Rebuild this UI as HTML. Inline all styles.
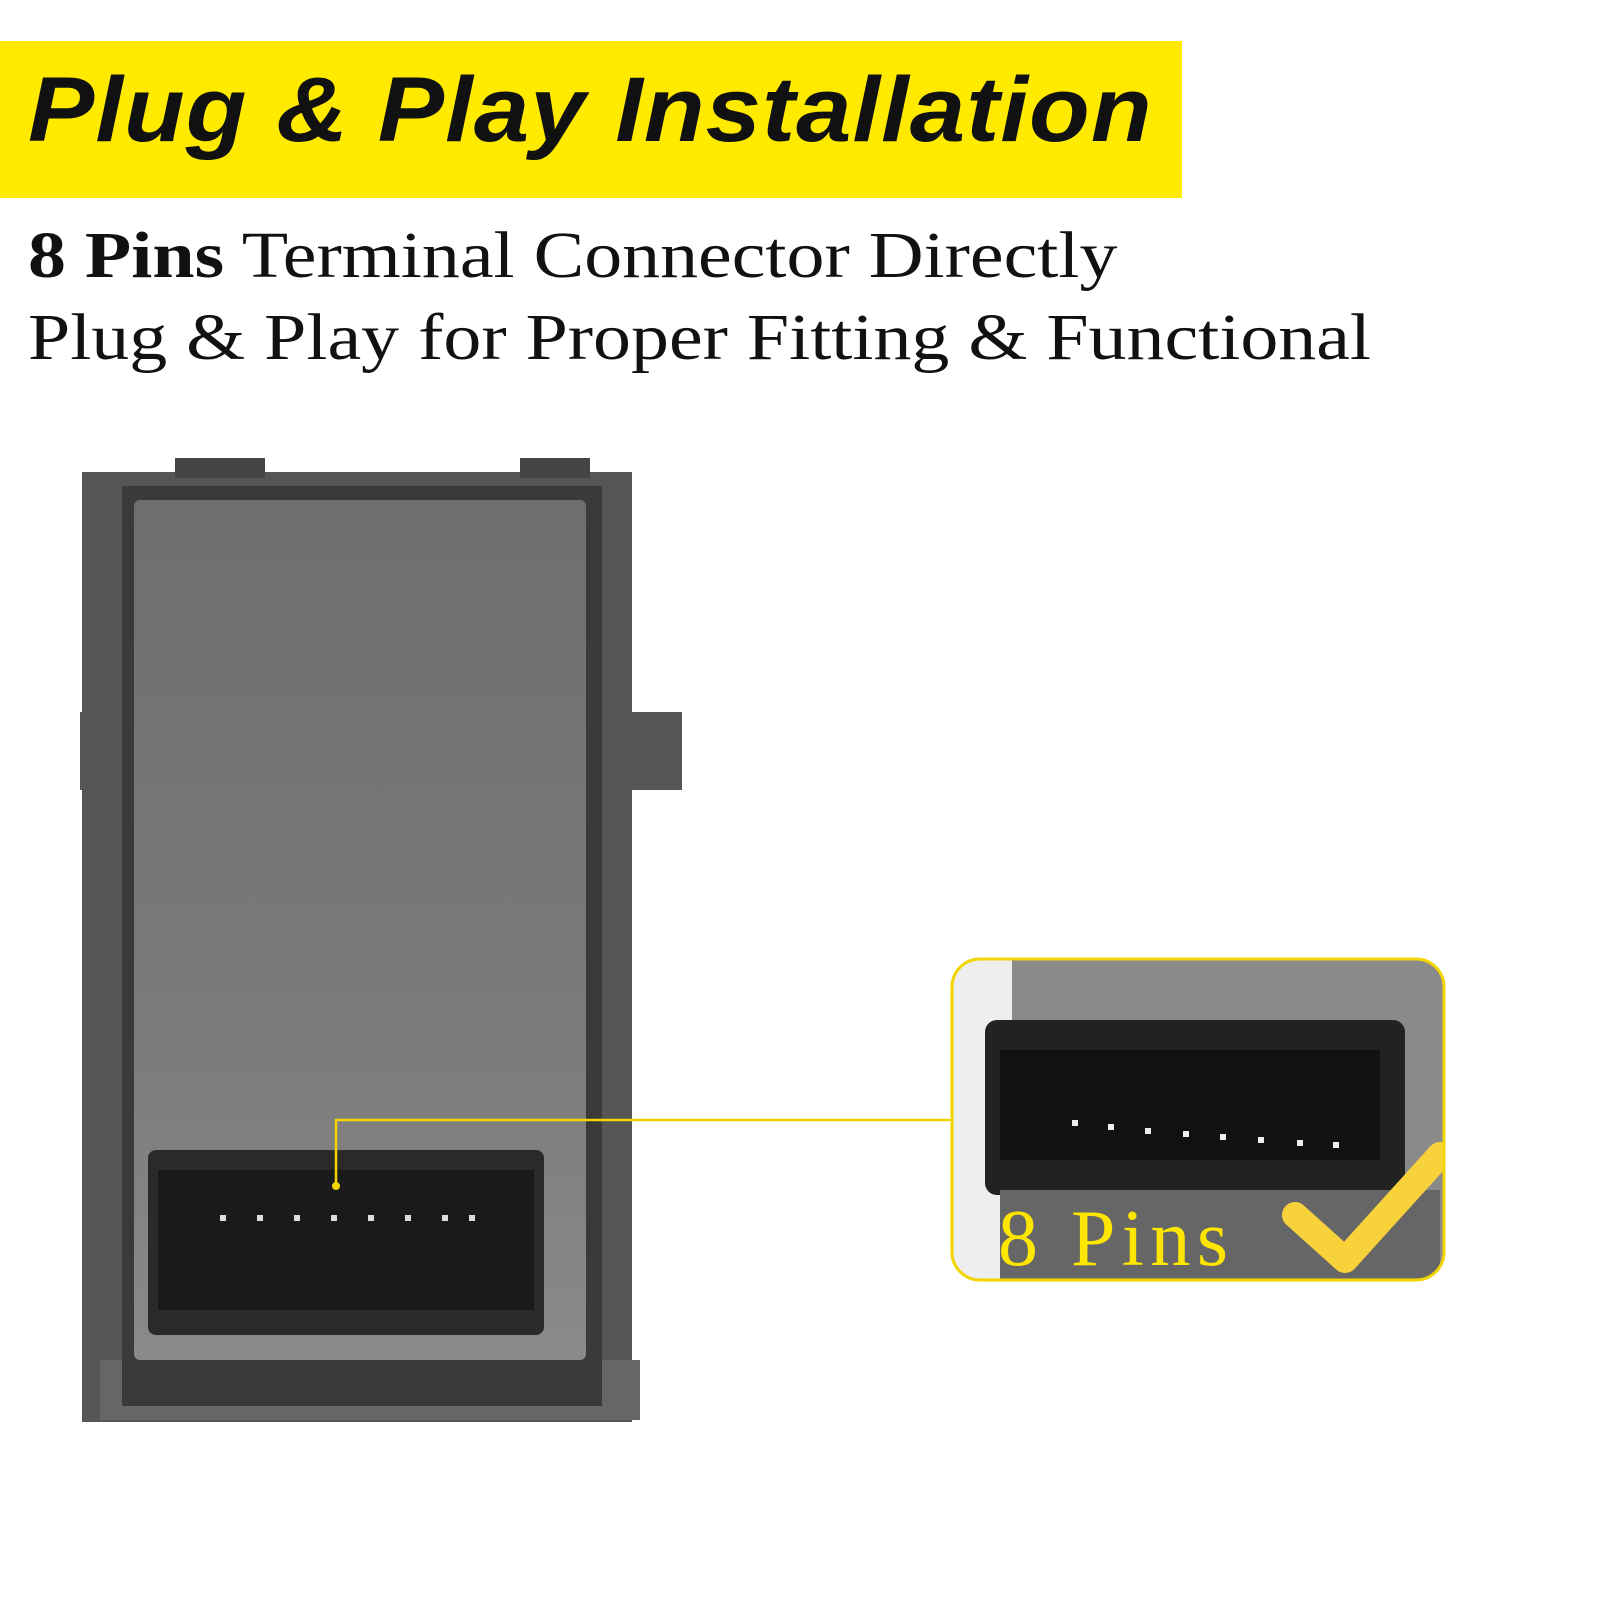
<!DOCTYPE html>
<html><head><style>
body{margin:0;width:1600px;height:1600px;background:#fff;position:relative;overflow:hidden;font-family:"Liberation Serif",serif}
.a{position:absolute}
</style></head><body>
<div class="a" style="left:0;top:41px;width:1182px;height:157px;background:#ffea00"></div>
<div class="a" style="left:28px;top:58px;font:italic bold 92px 'Liberation Sans',sans-serif;color:#111;letter-spacing:1px;transform:scaleX(1.08);transform-origin:left top;white-space:nowrap">Plug &amp; Play Installation</div>
<div class="a" style="left:28px;top:215px;font-size:66px;color:#111;line-height:82px;white-space:nowrap;transform:scaleX(1.15);transform-origin:left top"><b>8 Pins</b> Terminal Connector Directly<br>Plug &amp; Play for Proper Fitting &amp; Functional</div>
<svg class="a" style="left:0;top:0" width="1600" height="1600">
<defs><linearGradient id="g" x1="0" y1="0" x2="0" y2="1"><stop offset="0" stop-color="#6e6e6e"/><stop offset="0.6" stop-color="#7a7a7a"/><stop offset="1" stop-color="#8a8a8a"/></linearGradient></defs>
<rect x="82" y="472" width="550" height="950" fill="#555"/>
<rect x="175" y="458" width="90" height="20" fill="#444"/>
<rect x="520" y="458" width="70" height="20" fill="#444"/>
<rect x="80" y="712" width="50" height="78" fill="#555"/>
<rect x="600" y="712" width="82" height="78" fill="#555"/>
<rect x="100" y="1360" width="540" height="60" fill="#666"/>
<rect x="122" y="486" width="480" height="920" fill="#3a3a3a"/>
<rect x="134" y="500" width="452" height="860" rx="6" fill="url(#g)"/>
<rect x="148" y="1150" width="396" height="185" rx="8" fill="#2a2a2a"/>
<rect x="158" y="1170" width="376" height="140" fill="#1a1a1a"/>
<g fill="#ddd"><rect x="220" y="1215" width="6" height="6"/><rect x="257" y="1215" width="6" height="6"/><rect x="294" y="1215" width="6" height="6"/><rect x="331" y="1215" width="6" height="6"/><rect x="368" y="1215" width="6" height="6"/><rect x="405" y="1215" width="6" height="6"/><rect x="442" y="1215" width="6" height="6"/><rect x="469" y="1215" width="6" height="6"/></g>
<polyline points="336,1186 336,1120 952,1120" fill="none" stroke="#f2d500" stroke-width="2.5"/>
<circle cx="336" cy="1186" r="4" fill="#f2d500"/>
<clipPath id="c"><rect x="952" y="959" width="492" height="321" rx="28"/></clipPath>
<g clip-path="url(#c)">
<rect x="952" y="959" width="492" height="321" fill="#8a8a8a"/>
<rect x="952" y="959" width="60" height="321" fill="#eee"/>
<rect x="985" y="1020" width="420" height="175" rx="12" fill="#222"/>
<rect x="1000" y="1050" width="380" height="110" fill="#111"/>
<rect x="1000" y="1190" width="440" height="90" fill="#666"/>
<g fill="#eee"><rect x="1072" y="1120" width="6" height="6"/><rect x="1108" y="1124" width="6" height="6"/><rect x="1145" y="1128" width="6" height="6"/><rect x="1183" y="1131" width="6" height="6"/><rect x="1220" y="1134" width="6" height="6"/><rect x="1258" y="1137" width="6" height="6"/><rect x="1297" y="1140" width="6" height="6"/><rect x="1333" y="1142" width="6" height="6"/></g>
<polyline points="1295,1215 1345,1260 1440,1155" fill="none" stroke="#f8d23a" stroke-width="26" stroke-linecap="round" stroke-linejoin="round"/>
</g>
<rect x="952" y="959" width="492" height="321" rx="28" fill="none" stroke="#f2d500" stroke-width="3"/>
<text x="998" y="1265" font-family="Liberation Serif,serif" font-size="80" fill="#ffe600" textLength="230">8 Pins</text>
</svg>
</body></html>
